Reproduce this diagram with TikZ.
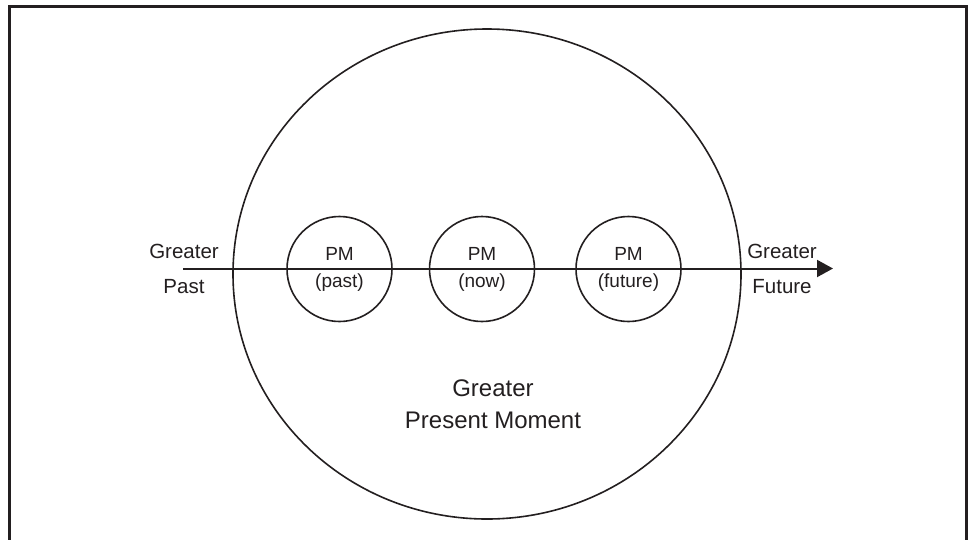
\documentclass[tikz,border=0pt]{standalone}
\usepackage{fontspec}
\setmainfont{Liberation Sans}
\usetikzlibrary{arrows.meta,shapes.geometric}
\definecolor{ink}{HTML}{231F20}
\begin{document}
\begin{tikzpicture}[x=1pt,y=-1pt,
  frame/.style={line width=2.6pt, draw=ink, line cap=rect},
  big/.style={ellipse, draw=ink, line width=1.6pt, minimum width=508pt, minimum height=490pt, inner sep=0pt},
  pm/.style={circle, draw=ink, line width=1.6pt, minimum size=105pt, inner sep=0pt},
  side/.style={font=\fontsize{20.5}{24}\selectfont, text=ink, anchor=base, inner sep=0pt},
  inner/.style={font=\fontsize{19}{22}\selectfont, text=ink, anchor=base, inner sep=0pt},
  main/.style={font=\fontsize{24}{28}\selectfont, text=ink, anchor=base, inner sep=0pt},
  axis/.style={line width=2pt, draw=ink, -{Triangle[length=16pt,width=17pt]}}]
\useasboundingbox (0,0) rectangle (968,539);
% frame
\coordinate (f1) at (9.5,539);
\coordinate (f2) at (9.5,6.2);
\coordinate (f3) at (966.3,6.2);
\coordinate (f4) at (966.3,539);
\draw[frame] (f1) -- (f2) -- (f3) -- (f4);
% big circle
\node[big] (gpm) at (487,274) {};
% small circles
\node[pm] (c1) at (339.5,269) {};
\node[pm] (c2) at (482,269) {};
\node[pm] (c3) at (628.5,269) {};
% axis
\coordinate (L) at (183,268.5);
\coordinate (R) at (833,268.5);
\draw[axis] (L) -- (R);
% side labels
\node[side] (gp1) at (184,258) {Greater};
\node[side] (gp2) at (184,293) {Past};
\node[side] (gf1) at (782,258) {Greater};
\node[side] (gf2) at (782,293) {Future};
% inner labels
\node[inner] (p1a) at (339.5,260) {PM};
\node[inner] (p1b) at (339.5,287) {(past)};
\node[inner] (p2a) at (482,260) {PM};
\node[inner] (p2b) at (482,287) {(now)};
\node[inner] (p3a) at (628.5,260) {PM};
\node[inner] (p3b) at (628.5,287) {(future)};
% main label
\node[main] (m1) at (493,396) {Greater};
\node[main] (m2) at (493,428) {Present Moment};
\end{tikzpicture}
\end{document}
